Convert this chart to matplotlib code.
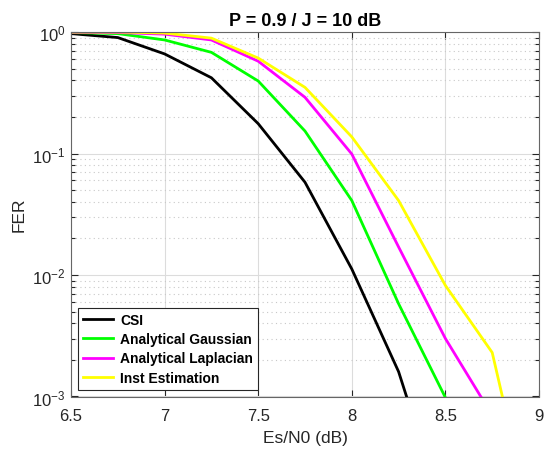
import matplotlib
matplotlib.use("Agg")
import matplotlib.pyplot as plt
from matplotlib.ticker import LogLocator, NullFormatter, FixedLocator

plt.rcParams['font.family'] = ['Liberation Sans', 'DejaVu Sans']
plt.rcParams['mathtext.fontset'] = 'custom'
plt.rcParams['mathtext.rm'] = 'Liberation Sans'

esn0 = [6.5, 6.75, 7.0, 7.25, 7.5, 7.75, 8.0, 8.25, 8.5, 8.75, 9.0]
fer_csi = [0.97, 0.90, 0.66, 0.42, 0.176, 0.058, 0.0112, 0.0016, 1.0e-4, 5e-6, 3e-7]
fer_gauss = [0.99, 0.97, 0.86, 0.68, 0.395, 0.153, 0.041, 0.0058, 0.00098, 1.5e-4, 2e-5]
fer_lap = [0.995, 0.99, 0.96, 0.86, 0.575, 0.29, 0.099, 0.017, 0.003, 0.0007, 1e-4]
fer_inst = [1.0, 1.0, 0.98, 0.89, 0.61, 0.35, 0.137, 0.041, 0.0082, 0.0023, 5e-5]
labels = ['CSI', 'Analytical Gaussian', 'Analytical Laplacian', 'Inst Estimation']
colors = ['black', '#00ff00', '#ff00ff', '#ffff00']

fig = plt.figure(figsize=(5.45, 4.56), dpi=100)
ax = fig.add_axes([71/545, 1-397.5/456, (539-71)/545, (397.5-33)/456])

for y, lab, c in zip([fer_csi, fer_gauss, fer_lap, fer_inst], labels, colors):
    ax.semilogy(esn0, y, color=c, lw=2.0, label=lab)

ax.set_xlim(6.5, 9)
ax.set_ylim(1e-3, 1)
ax.xaxis.set_major_locator(FixedLocator([6.5, 7, 7.5, 8, 8.5, 9]))
ax.set_xticklabels(['6.5', '7', '7.5', '8', '8.5', '9'])
ax.yaxis.set_major_locator(LogLocator(base=10, numticks=10))
ax.yaxis.set_minor_locator(LogLocator(base=10, subs=range(2, 10), numticks=10))
ax.yaxis.set_minor_formatter(NullFormatter())

gc = '#262626'
ax.grid(True, which='major', color='#dcdcdc', lw=0.8, ls='-')
ax.grid(True, which='minor', axis='y', color='#c8c8c8', lw=0.8, ls=(0, (1, 3)))
ax.set_axisbelow(True)
for s in ax.spines.values():
    s.set_color('#666666')
    s.set_linewidth(0.8)
ax.tick_params(which='both', direction='in', top=True, right=True, colors=gc,
               labelsize=12, length=5, width=0.8)
ax.tick_params(which='minor', length=3)
ax.tick_params(axis='x', pad=8)
ax.tick_params(axis='y', pad=4)

ax.set_title('P = 0.9 / J = 10 dB', fontsize=13, fontweight='bold', color='black', pad=5)
ax.set_xlabel('Es/N0 (dB)', fontsize=12.5, color=gc, labelpad=5)
ax.set_ylabel('FER', fontsize=12.5, color=gc, labelpad=4)

leg = ax.legend(loc='lower left', prop={'weight': 'bold', 'size': 10}, frameon=True,
                fancybox=False, edgecolor=gc, framealpha=1, handlelength=2.2,
                borderpad=0.35, labelspacing=0.38, handletextpad=0.5,
                borderaxespad=0.5)
leg.get_frame().set_linewidth(0.8)

fig.savefig('out.png', dpi=100)
